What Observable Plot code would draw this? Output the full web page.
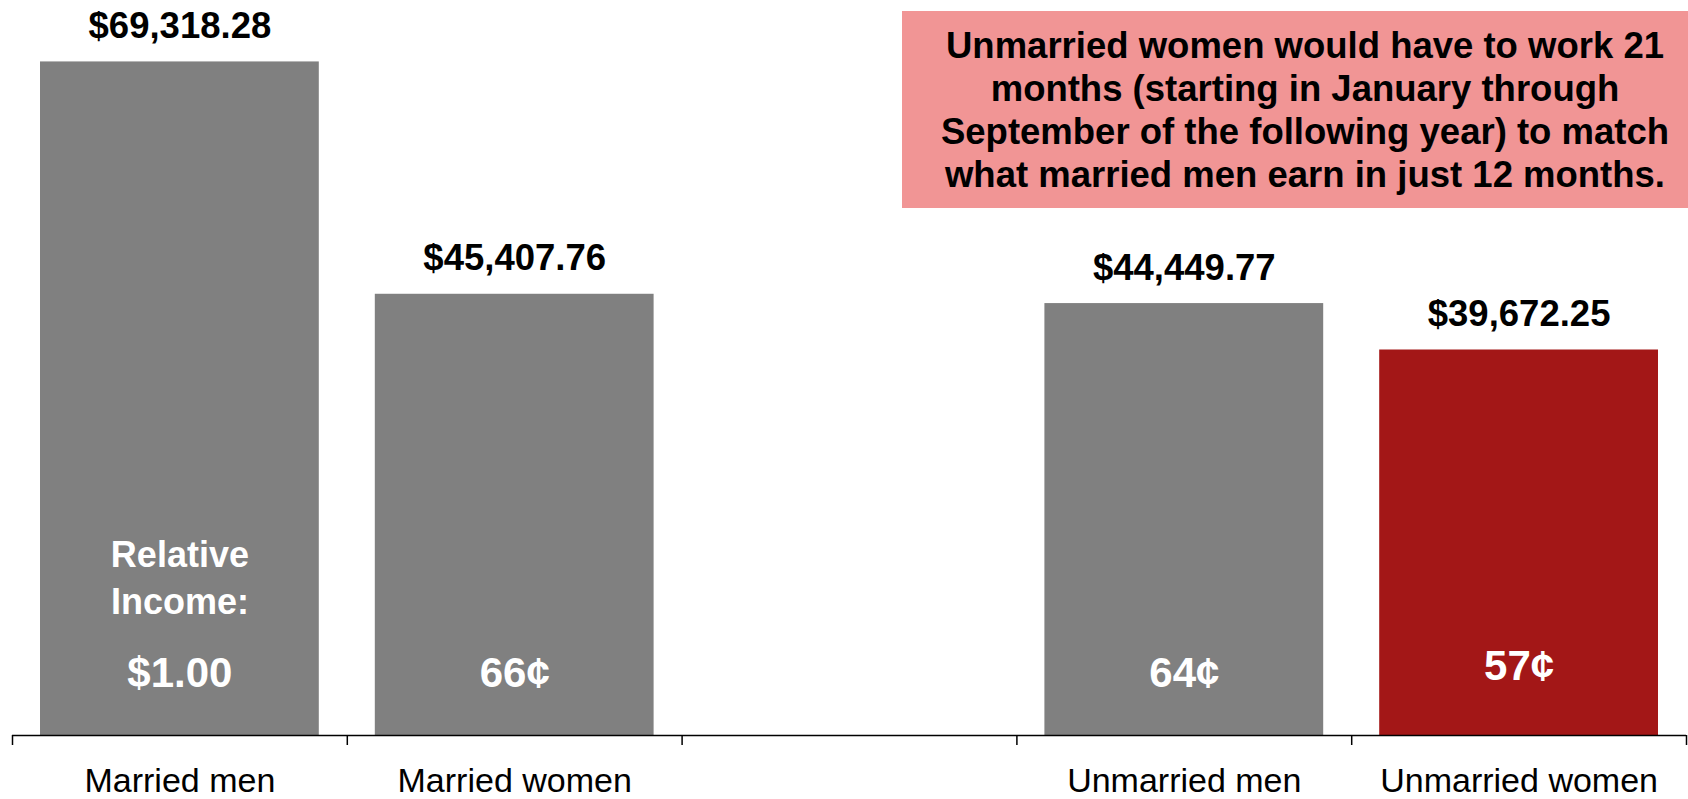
<!DOCTYPE html>
<html><head><meta charset="utf-8">
<script src="https://cdn.jsdelivr.net/npm/d3@7"></script>
<script src="https://cdn.jsdelivr.net/npm/@observablehq/plot@0.6"></script>
<style>
body{margin:0;background:#fff;font-family:"Liberation Sans",Arial,sans-serif}
#wrap{position:relative;width:1688px;height:799px;overflow:hidden}
#chart svg{display:block}
#note{position:absolute;left:902px;top:11px;width:786px;height:197px;background:#F19595;box-sizing:border-box;padding-top:13px;padding-left:20px;font-weight:bold;font-size:36.5px;line-height:43px;text-align:center;color:#000;white-space:nowrap}
</style></head><body>
<div id="wrap"><div id="chart"></div><div id="note"></div></div>
<script>
// Category slots along the axis (the blank one is the gap between groups)
const slots = ["Married men", "Married women", "", "Unmarried men", "Unmarried women"];
const categories = ["Married men", "Married women", "Unmarried men", "Unmarried women"];
const incomes = [69318.28, 45407.76, 44449.77, 39672.25];
const incomeLabels = ["$69,318.28", "$45,407.76", "$44,449.77", "$39,672.25"];
const relativeLabels = ["$1.00", "66¢", "64¢", "57¢"];
const highlighted = "Unmarried women";
const relativeHeading = "Relative\nIncome:";
const noteLines = [
  "Unmarried women would have to work 21",
  "months (starting in January through",
  "September of the following year) to match",
  "what married men earn in just 12 months."
];

const data = categories.map((c, i) => ({
  name: c,
  slot: slots.indexOf(c),
  income: incomes[i],
  incomeLabel: incomeLabels[i],
  relative: relativeLabels[i]
}));

const GREY = "#808080", RED = "#A31717";
const font = '"Liberation Sans", Arial, sans-serif';

const chart = Plot.plot({
  width: 1688,
  height: 799,
  marginTop: 0,
  marginBottom: 64,
  marginLeft: 12,
  marginRight: 2,
  style: {fontFamily: font, color: "#000", background: "#fff", overflow: "visible"},
  x: {type: "linear", domain: [0, slots.length], axis: null},
  y: {domain: [0, 75640], axis: null},
  marks: [
    Plot.rectY(data, {
      x1: d => d.slot, x2: d => d.slot + 1, y: "income",
      insetLeft: 28, insetRight: 28,
      fill: d => d.name === highlighted ? RED : GREY
    }),
    Plot.ruleY([0], {stroke: "#000", strokeWidth: 1.5}),
    Plot.axisX({ticks: d3.range(slots.length + 1), tickFormat: () => "", tickSize: 10, stroke: "#000", strokeWidth: 1.5, label: null}),
    Plot.text(data, {
      x: d => d.slot + 0.5, y: "income", text: "incomeLabel",
      lineAnchor: "bottom", dy: -24, fontSize: 36.5, fontWeight: "bold", fill: "#000"
    }),
    Plot.text(data.filter(d => d.name !== highlighted), {
      x: d => d.slot + 0.5, y: 0, text: "relative",
      lineAnchor: "bottom", dy: -49, fontSize: 42, fontWeight: "bold", fill: "#fff"
    }),
    Plot.text(data.filter(d => d.name === highlighted), {
      x: d => d.slot + 0.5, y: 0, text: "relative",
      lineAnchor: "bottom", dy: -56, fontSize: 42, fontWeight: "bold", fill: "#fff"
    }),
    Plot.text(data.slice(0, 1), {
      x: d => d.slot + 0.5, y: 0, text: () => relativeHeading,
      lineAnchor: "bottom", dy: -122, lineHeight: 1.3, fontSize: 36, fontWeight: "bold", fill: "#fff"
    }),
    Plot.text(data, {
      x: d => d.slot + 0.5, y: 0, text: "name",
      lineAnchor: "bottom", dy: 56, fontSize: 34, fill: "#000"
    })
  ]
});
document.getElementById("chart").appendChild(chart);
document.getElementById("note").innerHTML = noteLines.join("<br>");
</script>
</body></html>
